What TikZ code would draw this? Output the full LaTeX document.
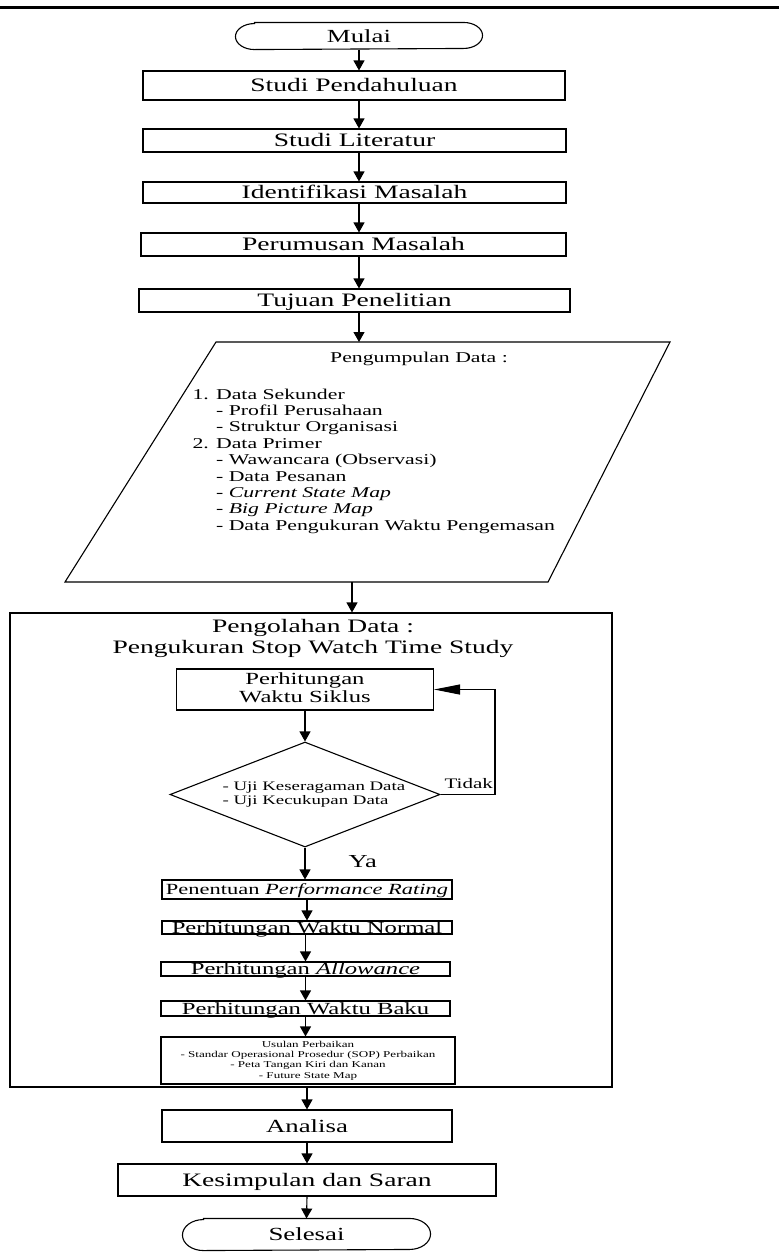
\documentclass[tikz,border=0pt]{standalone}
\usepackage{fontspec}
\setmainfont{Liberation Serif}
\usetikzlibrary{arrows.meta,shapes.geometric,shapes.misc}
\newcommand\sx[1]{\scalebox{1.45}[1]{#1}}
\newcommand\fs[1]{\fontsize{#1}{#1}\selectfont}
\newcommand\termline[3]{\draw ([xshift=#2]#1.north west) -- ([xshift=-#2]#1.north east)
  arc[start angle=90,end angle=-90,x radius=#2,y radius=#3]
  -- ([xshift=#2]#1.south west)
  arc[start angle=270,end angle=90,x radius=#2,y radius=#3] -- cycle;}
\begin{document}
\begin{tikzpicture}[x=1pt,y=-1pt,line width=1.1pt,
  arr/.style={-{Triangle[length=10pt,width=11pt]}},
  looparr/.style={-{Triangle[length=26pt,width=10pt]}},
  bx/.style={draw,rectangle,inner sep=0pt,text depth=0pt},
  bxm/.style={draw,rectangle,inner sep=0pt},
  term/.style={rectangle,inner sep=0pt,text depth=0pt},
  lbl/.style={inner sep=0pt}]
\useasboundingbox (0,0) rectangle (779,1259);
\draw[line width=3pt] (0,7.5) -- (779,7.5);

% top column
\node[term,minimum width=246pt,minimum height=26pt,text height=12.2pt] (mulai) at (359,36) {\sx{\fs{18.5}Mulai}};
\termline{mulai}{19pt}{13pt}
\node[bx,minimum width=422pt,minimum height=29pt,text height=12.6pt] (sp) at (354,85.5) {\sx{\fs{19}Studi Pendahuluan}};
\node[bx,minimum width=423pt,minimum height=23pt,text height=12.6pt] (slit) at (354.5,140.5) {\sx{\fs{19}Studi Literatur}};
\node[bx,minimum width=423pt,minimum height=21pt,text height=12.6pt] (idm) at (354.5,192.5) {\sx{\fs{19}Identifikasi Masalah}};
\node[bx,minimum width=425pt,minimum height=23pt,text height=12.6pt] (pm) at (353.5,244.5) {\sx{\fs{19}Perumusan Masalah}};
\node[bx,minimum width=431pt,minimum height=23pt,text height=12.6pt] (tp) at (354.5,300.5) {\sx{\fs{19}Tujuan Penelitian}};

\draw[arr] (mulai.south) -- (mulai.south |- sp.north);
\draw[arr] (sp.south -| mulai.south) -- (slit.north -| mulai.south);
\draw[arr] (slit.south -| mulai.south) -- (idm.north -| mulai.south);
\draw[arr] (idm.south -| mulai.south) -- (pm.north -| mulai.south);
\draw[arr] (pm.south -| mulai.south) -- (tp.north -| mulai.south);

% data collection (parallelogram)
\coordinate (pTL) at (216,342);
\coordinate (pTR) at (670,342);
\coordinate (pBR) at (548,582);
\coordinate (pBL) at (65,582);
\coordinate (pdtop) at (359,342);
\coordinate (pdbot) at (352,582);
\draw (pTL) -- (pTR) -- (pBR) -- (pBL) -- cycle;
\draw[arr] (tp.south -| mulai.south) -- (pdtop);
\node[lbl,anchor=base] (pdh) at (419,362) {\sx{\fs{15}Pengumpulan Data :}};
\node[lbl,anchor=base west] (pdl) at (192,399) {\sx{\fontsize{15}{16.4}\selectfont\begin{tabular}[t]{@{}l@{}}
1. Data Sekunder\\
\hphantom{1. }- Profil Perusahaan\\
\hphantom{1. }- Struktur Organisasi\\
2. Data Primer\\
\hphantom{1. }- Wawancara (Observasi)\\
\hphantom{1. }- Data Pesanan\\
\hphantom{1. }- \textit{Current State Map}\\
\hphantom{1. }- \textit{Big Picture Map}\\
\hphantom{1. }- Data Pengukuran Waktu Pengemasan
\end{tabular}}};

% processing frame
\node[bx,minimum width=602pt,minimum height=474pt] (olah) at (311,850) {};
\draw[arr] (pdbot) -- (pdbot |- olah.north);
\node[lbl,anchor=base] (olahh) at (313,632) {\sx{\fontsize{19}{21}\selectfont\begin{tabular}[t]{@{}c@{}}Pengolahan Data :\\Pengukuran Stop Watch Time Study\end{tabular}}};

\node[bxm,minimum width=257pt,minimum height=41pt] (siklus) at (305,689.5) {\sx{\fontsize{17}{18}\selectfont\begin{tabular}{@{}c@{}}Perhitungan\\Waktu Siklus\end{tabular}}};
\node[draw,diamond,minimum width=270pt,minimum height=105pt,inner sep=0pt] (dia) at (305,794.5) {};
\node[lbl,anchor=base west] (diat) at (222,790) {\sx{\fontsize{13}{14}\selectfont\begin{tabular}[t]{@{}l@{}}- Uji Keseragaman Data\\- Uji Kecukupan Data\end{tabular}}};
\node[lbl,anchor=base west] (tidak) at (444,788) {\sx{\fs{14.5}Tidak}};
\node[lbl,anchor=base west] (ya) at (348,867) {\sx{\fs{18.3}Ya}};

\node[bx,minimum width=290pt,minimum height=19pt,text height=10.3pt] (pr) at (307,889.5) {\sx{\fs{15.5}Penentuan \textit{Performance Rating}}};
\node[bx,minimum width=290pt,minimum height=13pt,text height=11.3pt] (wn) at (307,927.5) {\sx{\fs{17}Perhitungan Waktu Normal}};
\node[bx,minimum width=289pt,minimum height=14pt,text height=11.3pt] (al) at (305.5,969) {\sx{\fs{17}Perhitungan \textit{Allowance}}};
\node[bx,minimum width=289pt,minimum height=15pt,text height=11.3pt] (wb) at (305.5,1008.5) {\sx{\fs{17}Perhitungan Waktu Baku}};
\node[bxm,minimum width=294pt,minimum height=47pt] (us) at (308,1060.5) {\sx{\fontsize{9}{10.3}\selectfont\begin{tabular}{@{}c@{}}Usulan Perbaikan\\- Standar Operasional Prosedur (SOP) Perbaikan\\- Peta Tangan Kiri dan Kanan\\- Future State Map\end{tabular}}};

\coordinate (lp) at (495,689.5);
\draw[arr] (siklus.south) -- (dia.north);
\draw[looparr] (dia.east) -| (lp) -- (siklus.east);
\draw[arr] (dia.south) -- (dia.south |- pr.north);
\draw[arr] (pr.south) -- (wn.north);
\draw[arr] (wn.south -| al.north) -- (al.north);
\draw[arr] (al.south) -- (wb.north);
\draw[arr] (wb.south) -- (wb.south |- us.north);

% bottom column
\node[bx,minimum width=290pt,minimum height=32pt,text height=12.2pt] (an) at (307,1126) {\sx{\fs{18.5}Analisa}};
\node[bx,minimum width=378pt,minimum height=32pt,text height=12.6pt] (ks) at (307,1180) {\sx{\fs{19}Kesimpulan dan Saran}};
\node[term,minimum width=247pt,minimum height=31pt,text height=12.2pt] (sel) at (306.5,1234.5) {\sx{\fs{18.5}Selesai}};
\termline{sel}{21pt}{15.5pt}
\draw[arr] (an.north |- olah.south) -- (an.north);
\draw[arr] (an.south) -- (ks.north);
\draw[arr] (ks.south) -- (sel.north);
\end{tikzpicture}
\end{document}
